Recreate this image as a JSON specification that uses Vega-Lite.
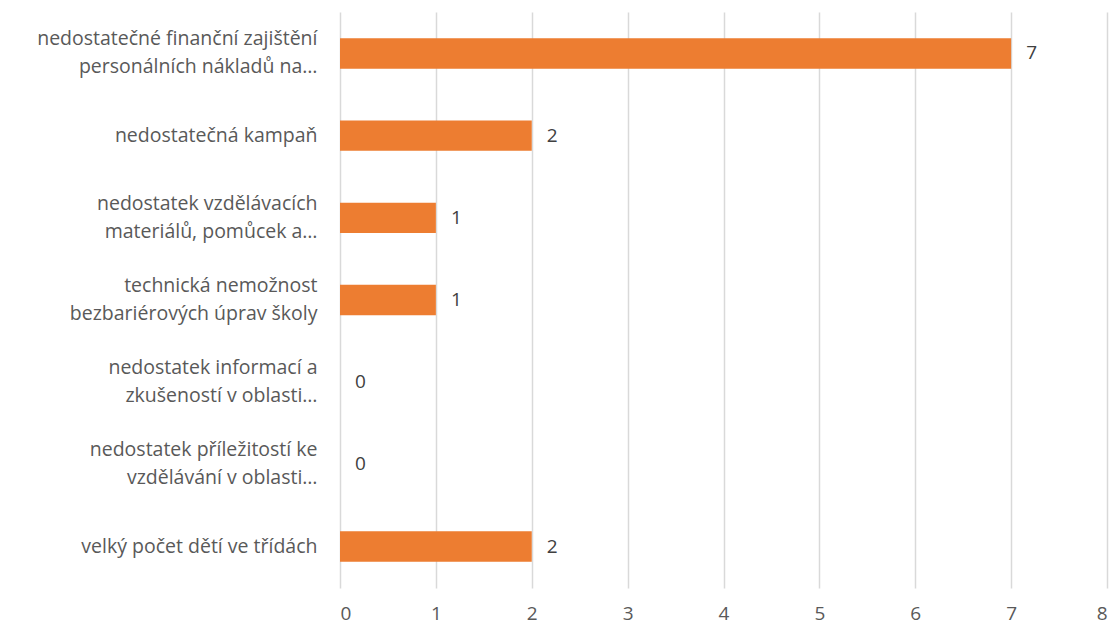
{
  "$schema": "https://vega.github.io/schema/vega-lite/v6.json",
  "width": 1112,
  "height": 629,
  "autosize": {"type": "fit", "contains": "padding"},
  "padding": {"left": 36, "top": 12, "right": 5, "bottom": 6},
  "background": "white",
  "config": {"view": {"stroke": null}, "font": "Open Sans"},
  "data": {
    "values": [
      {"kategorie": "nedostatečné finanční zajištění|personálních nákladů na…", "pocet": 7},
      {"kategorie": "nedostatečná kampaň", "pocet": 2},
      {"kategorie": "nedostatek vzdělávacích|materiálů, pomůcek a…", "pocet": 1},
      {"kategorie": "technická nemožnost|bezbariérových úprav školy", "pocet": 1},
      {"kategorie": "nedostatek informací a|zkušeností v oblasti…", "pocet": 0},
      {"kategorie": "nedostatek příležitostí ke|vzdělávání v oblasti…", "pocet": 0},
      {"kategorie": "velký počet dětí ve třídách", "pocet": 2}
    ]
  },
  "encoding": {
    "y": {
      "field": "kategorie",
      "type": "nominal",
      "sort": null,
      "title": null,
      "scale": {"paddingInner": 0.63, "paddingOuter": 0.32},
      "axis": {
        "labelExpr": "split(datum.value, '|')",
        "labelFontSize": 19.5,
        "labelColor": "#595959",
        "labelLineHeight": 28,
        "labelPadding": 23,
        "labelLimit": 400,
        "labelOffset": {"condition": {"test": "indexof(datum.value, '|') >= 0", "value": -14}, "value": 0},
        "domain": false,
        "ticks": false,
        "grid": false
      }
    },
    "x": {
      "field": "pocet",
      "type": "quantitative",
      "title": null,
      "scale": {"domain": [0, 8], "nice": false},
      "axis": {
        "values": [0, 1, 2, 3, 4, 5, 6, 7, 8],
        "labelOverlap": false,
        "labelFontSize": 19,
        "labelColor": "#595959",
        "labelPadding": 16,
        "domain": false,
        "ticks": false,
        "grid": true,
        "gridColor": "#d9d9d9",
        "gridWidth": 1.5
      }
    }
  },
  "layer": [
    {"mark": {"type": "bar", "color": "#ED7D31"}},
    {
      "mark": {"type": "text", "align": "left", "dx": 15, "fontSize": 19, "color": "#404040"},
      "encoding": {"text": {"field": "pocet", "type": "quantitative"}}
    }
  ]
}
